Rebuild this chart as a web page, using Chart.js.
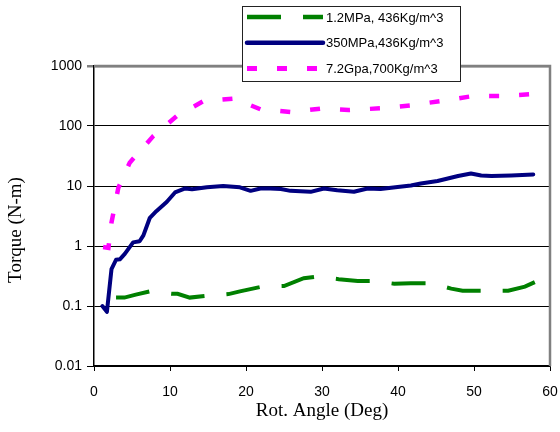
<!DOCTYPE html>
<html>
<head>
<meta charset="utf-8">
<script src="https://cdn.jsdelivr.net/npm/chart.js@4.4.1/dist/chart.umd.min.js"></script>
<style>
  html, body { margin: 0; padding: 0; background: #fff; }
  #wrap { width: 560px; height: 432px; }
</style>
</head>
<body>
<div id="wrap"><canvas id="torqueChart" width="560" height="432"></canvas></div>
<script>
// Series: rotation angle (deg) vs torque (N-m)
const seriesLabels = ['1.2MPa, 436Kg/m^3', '350MPa,436Kg/m^3', '7.2Gpa,700Kg/m^3'];
const xTitle = 'Rot. Angle (Deg)';
const yTitle = 'Torque (N-m)';

const angleLow = [2.9, 4.0, 5.5, 7.35, 10.2, 11.0, 12.6, 14.6, 17.7, 19.2, 22.1, 25.0, 27.6, 29.4, 32.2, 34.7, 36.9, 39.5, 41.7, 44.3, 47.0, 48.5, 51.6, 54.5, 56.7, 58.0];
const torqueLow = [0.138, 0.138, 0.155, 0.175, 0.16, 0.16, 0.138, 0.147, 0.158, 0.175, 0.21, 0.215, 0.29, 0.31, 0.28, 0.26, 0.26, 0.235, 0.24, 0.24, 0.195, 0.18, 0.18, 0.18, 0.21, 0.25];

const angleMid = [1.1, 1.7, 2.3, 2.9, 3.4, 4.05, 5.15, 6.0, 6.5, 7.35, 8.2, 9.56, 10.66, 12.0, 12.9, 14.85, 17.0, 19.2, 20.6, 21.9, 23.2, 24.6, 25.85, 28.5, 30.25, 32.0, 34.2, 36.0, 37.7, 39.95, 41.7, 43.0, 45.2, 46.55, 47.9, 49.6, 50.95, 52.3, 54.9, 57.8];
const torqueMid = [0.1, 0.08, 0.41, 0.59, 0.6, 0.74, 1.15, 1.2, 1.5, 2.95, 3.8, 5.4, 7.8, 9.1, 8.8, 9.5, 10, 9.5, 8.3, 9.1, 9.1, 8.9, 8.3, 8.0, 9.1, 8.5, 8.0, 9.1, 8.9, 9.6, 10.2, 11, 12.1, 13.3, 14.7, 16.2, 15, 14.7, 15, 15.6];

const angleHigh = [1.2, 1.9, 2.3, 3.2, 4.7, 7.8, 10.9, 14.4, 18.4, 21.9, 25.9, 29.8, 33.5, 37.7, 41.7, 45.7, 49.9, 53.8, 57.3];
const torqueHigh = [0.96, 0.93, 2.45, 9.3, 24.5, 68, 147, 260, 287, 190, 171, 195, 185, 197, 221, 262, 316, 316, 337];

const xTicks = [0, 10, 20, 30, 40, 50, 60];
const yTicks = [0.01, 0.1, 1, 10, 100, 1000];
const yTickLabels = ['0.01', '0.1', '1', '10', '100', '1000'];

function toPoints(xs, ys) {
    return xs.map((x, i) => ({ x: x, y: ys[i] }));
}

// gray frame on top and right of the plot area
const plotFrame = {
    id: 'plotFrame',
    beforeDatasetsDraw(chart) {
        const { ctx, chartArea } = chart;
        ctx.save();
        ctx.strokeStyle = '#808080';
        ctx.lineWidth = 2.5;
        ctx.beginPath();
        ctx.moveTo(chartArea.left, chartArea.top);
        ctx.lineTo(chartArea.right, chartArea.top);
        ctx.lineTo(chartArea.right, chartArea.bottom);
        ctx.stroke();
        ctx.restore();
    }
};

// y title sits a little below the plot middle in the original, so draw it by hand
const yTitleText = {
    id: 'yTitleText',
    afterDraw(chart) {
        const ctx = chart.ctx;
        ctx.save();
        ctx.translate(16, 230);
        ctx.rotate(-Math.PI / 2);
        ctx.fillStyle = '#000';
        ctx.font = '19px "Liberation Serif", "Times New Roman", serif';
        ctx.textAlign = 'center';
        ctx.textBaseline = 'middle';
        ctx.fillText(yTitle, 0, 0);
        ctx.restore();
    }
};

// boxed legend overlapping the top of the plot, like the original
const legendBox = {
    id: 'legendBox',
    afterDraw(chart) {
        const ctx = chart.ctx;
        ctx.save();
        ctx.fillStyle = '#fff';
        ctx.fillRect(242, 6, 218, 75);
        ctx.strokeStyle = '#222';
        ctx.lineWidth = 1;
        ctx.strokeRect(242.5, 6.5, 218, 75);
        chart.data.datasets.forEach((ds, i) => {
            const y = 17 + i * 25.7;
            ctx.beginPath();
            ctx.setLineDash(ds.borderDash || []);
            ctx.lineCap = ds.borderCapStyle || 'butt';
            ctx.strokeStyle = ds.borderColor;
            ctx.lineWidth = ds.borderWidth + 0.5;
            ctx.moveTo(247, y);
            ctx.lineTo(323, y);
            ctx.stroke();
            ctx.setLineDash([]);
            ctx.fillStyle = '#000';
            ctx.font = '13px "Liberation Sans", Arial, sans-serif';
            ctx.textBaseline = 'middle';
            ctx.fillText(ds.label, 326, y + 1);
        });
        ctx.restore();
    }
};

const ctx = document.getElementById('torqueChart');
new Chart(ctx, {
    type: 'line',
    data: {
        datasets: [
            {
                label: seriesLabels[0],
                data: toPoints(angleLow, torqueLow),
                borderColor: '#008000',
                borderWidth: 4,
                borderDash: [34, 22],
                borderCapStyle: 'butt',
                pointRadius: 0,
                tension: 0
            },
            {
                label: seriesLabels[1],
                data: toPoints(angleMid, torqueMid),
                borderColor: '#000080',
                borderWidth: 4,
                borderCapStyle: 'round',
                borderJoinStyle: 'round',
                pointRadius: 0,
                tension: 0
            },
            {
                label: seriesLabels[2],
                data: toPoints(angleHigh, torqueHigh),
                borderColor: '#ff00ff',
                borderWidth: 4.5,
                borderDash: [10, 20],
                borderCapStyle: 'butt',
                pointRadius: 0,
                tension: 0
            }
        ]
    },
    options: {
        responsive: false,
        animation: false,
        layout: { padding: { top: 66, right: 10, left: 0, bottom: 0 } },
        plugins: {
            legend: { display: false },
            tooltip: { enabled: false }
        },
        scales: {
            x: {
                type: 'linear',
                min: xTicks[0],
                max: xTicks[xTicks.length - 1],
                afterBuildTicks: s => { s.ticks = xTicks.map(v => ({ value: v })); },
                afterFit: s => { s.height = 66; s.paddingLeft = 0; s.paddingRight = 10; },
                ticks: {
                    color: '#000',
                    padding: 13,
                    font: { family: '"Liberation Sans", Arial, sans-serif', size: 14 }
                },
                grid: { drawOnChartArea: false, drawTicks: true, tickLength: 5, color: '#000', lineWidth: 1 },
                border: { color: '#000', width: 1.5 },
                title: {
                    display: true,
                    text: xTitle,
                    color: '#000',
                    padding: { top: 0, bottom: 10 },
                    font: { family: '"Liberation Serif", "Times New Roman", serif', size: 19 }
                }
            },
            y: {
                type: 'logarithmic',
                min: yTicks[0],
                max: yTicks[yTicks.length - 1],
                afterBuildTicks: s => { s.ticks = yTicks.map(v => ({ value: v })); },
                afterFit: s => { s.width = 94; s.paddingTop = 0; s.paddingBottom = 0; },
                ticks: {
                    color: '#000',
                    padding: 5,
                    callback: (v, i) => yTickLabels[i],
                    font: { family: '"Liberation Sans", Arial, sans-serif', size: 14 }
                },
                grid: {
                    tickLength: 7,
                    color: c => (c.tick && c.tick.value === 1000 ? '#808080' : '#000'),
                    lineWidth: c => (c.tick && c.tick.value === 1000 ? 2.5 : 1)
                },
                border: { color: '#000', width: 1.5 },
                title: { display: false }
            }
        }
    },
    plugins: [plotFrame, yTitleText, legendBox]
});
</script>
</body>
</html>
